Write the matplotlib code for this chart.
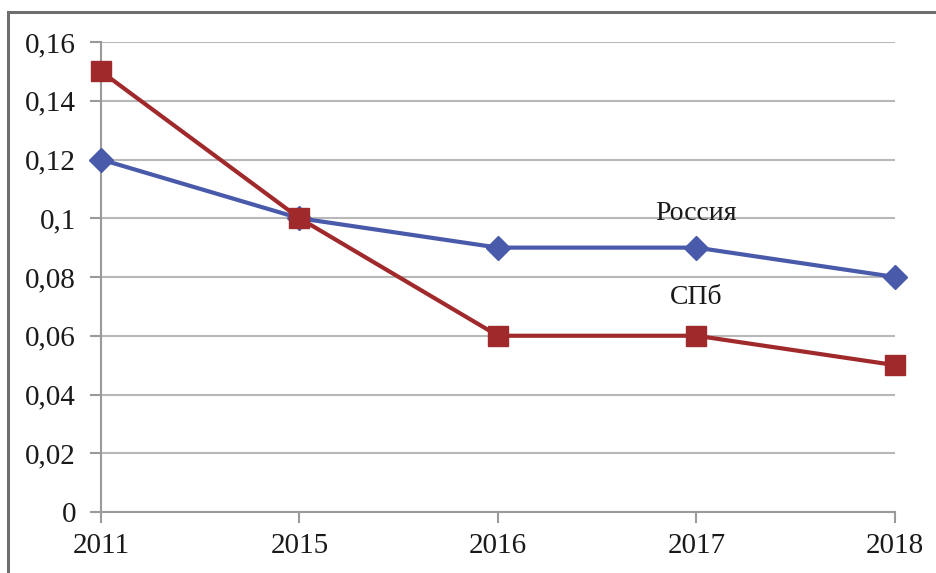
import matplotlib.pyplot as plt
from matplotlib.patches import Rectangle
from matplotlib.ticker import FuncFormatter

years = ["2011", "2015", "2016", "2017", "2018"]
russia = [0.12, 0.10, 0.09, 0.09, 0.08]
spb = [0.15, 0.10, 0.06, 0.06, 0.05]
y_ticks = [0, 0.02, 0.04, 0.06, 0.08, 0.10, 0.12, 0.14, 0.16]


def comma_fmt(v, _pos):
    s = f"{v:.2f}".rstrip("0").rstrip(".")
    return s.replace(".", ",")


def main() -> None:
    plt.rcParams["font.family"] = ["Liberation Serif", "DejaVu Serif"]
    fig = plt.figure(figsize=(9.37, 5.73), dpi=100)
    ax = fig.add_axes([101 / 937, 61 / 573, 794 / 937, 470 / 573])

    # outer chart frame, runs off the right and bottom edges
    fig.patches.append(Rectangle((8 / 937, -0.05), 1.0, (573 - 12) / 573 + 0.05,
                                 transform=fig.transFigure, fill=False,
                                 edgecolor="#6e6e6e", linewidth=2.2))

    x = range(len(years))
    ax.plot(x, russia, color="#4a5aab", linewidth=3, marker="D", markersize=12,
            clip_on=False, zorder=3)
    ax.plot(x, spb, color="#a0292c", linewidth=3, marker="s", markersize=14,
            clip_on=False, zorder=4)

    ax.text(3, 0.1015, "Россия", ha="center", va="center", fontsize=20,
            color="#1a1a1a")
    ax.text(3, 0.073, "СПб", ha="center", va="center", fontsize=20,
            color="#1a1a1a")

    ax.set_xlim(0, len(years) - 1)
    ax.set_ylim(0, 0.16)
    ax.set_xticks(list(x))
    ax.set_xticklabels(years)
    ax.set_yticks(y_ticks)
    ax.yaxis.set_major_formatter(FuncFormatter(comma_fmt))

    ax.grid(axis="y", color="#b8b8b8", linewidth=1.5)
    ax.set_axisbelow(True)
    for side in ("top", "right"):
        ax.spines[side].set_visible(False)
    for side in ("left", "bottom"):
        ax.spines[side].set_color("#9a9a9a")
        ax.spines[side].set_linewidth(1.5)
    ax.tick_params(axis="both", colors="#9a9a9a", width=1.5, length=8,
                   labelsize=21, labelcolor="#1a1a1a")
    ax.tick_params(axis="x", pad=7)
    ax.tick_params(axis="y", pad=10)

    fig.savefig("out.png", dpi=100)


if __name__ == "__main__":
    main()
